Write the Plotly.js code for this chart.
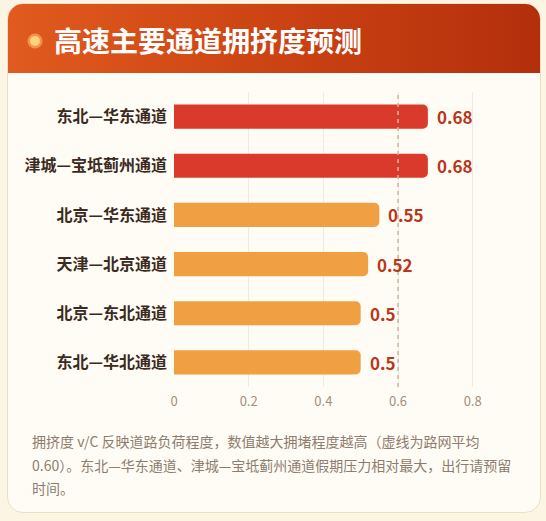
<!DOCTYPE html>
<html>
<head>
<meta charset="utf-8">
<script src="https://cdn.plot.ly/plotly-3.0.1.min.js"></script>
<style>
html,body{margin:0;padding:0;width:546px;height:521px;overflow:hidden;background:#FCF5E3;}
#card{position:absolute;left:7px;top:3px;width:532px;height:508px;background:#FFFCF6;border:1.5px solid #EEDFC2;border-radius:16px;overflow:hidden;}
#head{position:absolute;left:0;top:0;width:100%;height:69px;background:linear-gradient(90deg,#E05B1F 0%,#CC4313 50%,#B32F0C 100%);}
#dot{position:absolute;left:21.5px;top:31.5px;width:10px;height:10px;border-radius:50%;background:#FFD27C;box-shadow:0 0 0 2.5px rgba(247,160,90,0.8);}
#chart{position:absolute;left:0;top:0;width:546px;height:521px;}
</style>
</head>
<body>
<div id="card"><div id="head"><div id="dot"></div></div></div>
<div id="chart"></div>
<script>
const titleText = "高速主要通道拥挤度预测";
const categories = ["东北—华东通道","津城—宝坻蓟州通道","北京—华东通道","天津—北京通道","北京—东北通道","东北—华北通道"];
const values = [0.68, 0.68, 0.55, 0.52, 0.5, 0.5];
const valueLabels = ["0.68","0.68","0.55","0.52","0.5","0.5"];
const barColors = ["#D93A2C","#D93A2C","#F0A042","#F0A042","#F0A042","#F0A042"];
const averageValue = 0.60;
const tickValues = [0, 0.2, 0.4, 0.6, 0.8];
const tickLabels = ["0","0.2","0.4","0.6","0.8"];
const footnoteLines = [
  "拥挤度 v/C 反映道路负荷程度，数值越大拥堵程度越高（虚线为路网平均",
  "0.60）。东北—华东通道、津城—宝坻蓟州通道假期压力相对最大，出行请预留",
  "时间。"
];

const FONT = "'Noto Sans CJK SC','Noto Sans',sans-serif";
const L = 174, R = 36, T = 92, B = 134;
const plotW = 546 - L - R, plotH = 521 - T - B;
const px2paperX = p => (p - L) / plotW;
const px2paperY = p => (521 - B - p) / plotH;

const annotations = categories.map((c, i) => ({
  x: values[i], y: c, xref: 'x', yref: 'y',
  text: '<b>' + valueLabels[i] + '</b>',
  showarrow: false, xanchor: 'left', yanchor: 'middle', xshift: 7,
  font: {family: FONT, size: 17, color: '#B9361A'}
}));
const lineY = [441, 465, 488];
footnoteLines.forEach((t, i) => annotations.push({
  x: px2paperX(30), y: px2paperY(lineY[i]), xref: 'paper', yref: 'paper',
  text: t, showarrow: false, xanchor: 'left', yanchor: 'middle', align: 'left',
  font: {family: FONT, size: 14, color: '#8E7C6E'}
}));

const trace = {
  type: 'bar', orientation: 'h',
  x: values, y: categories,
  marker: {color: barColors, cornerradius: 5, line: {width: 0}},
  hoverinfo: 'x+y'
};

const layout = {
  width: 546, height: 521,
  margin: {l: L, r: R, t: T, b: B, pad: 0},
  paper_bgcolor: 'rgba(0,0,0,0)', plot_bgcolor: 'rgba(0,0,0,0)',
  showlegend: false,
  bargap: 0.51,
  title: {
    text: '<b>' + titleText + '</b>', xref: 'container', yref: 'container',
    x: 54 / 546, xanchor: 'left', y: 1 - 42 / 521, yanchor: 'middle',
    font: {family: FONT, size: 28, color: '#FFFFFF'}
  },
  xaxis: {
    range: [0, 0.9], tickvals: tickValues, ticktext: tickLabels,
    showgrid: true, gridcolor: '#F0EAE0', gridwidth: 1,
    zeroline: false, showline: false, ticks: '',
    ticklabelstandoff: 5,
    tickfont: {family: FONT, size: 13, color: '#A09080'}
  },
  yaxis: {
    autorange: 'reversed', showgrid: false, zeroline: false, showline: false,
    ticks: '', ticklabelstandoff: 6,
    tickfont: {family: FONT, size: 16, color: '#3B2A20', weight: 'bold'}
  },
  shapes: [{
    type: 'line', xref: 'x', yref: 'paper', x0: averageValue, x1: averageValue, y0: 0, y1: 1,
    line: {color: '#CDB5A0', width: 1.5, dash: '4px,4px'}, layer: 'above'
  }],
  annotations: annotations
};

Plotly.newPlot('chart', [trace], layout, {displayModeBar: false, staticPlot: true});
</script>
</body>
</html>
